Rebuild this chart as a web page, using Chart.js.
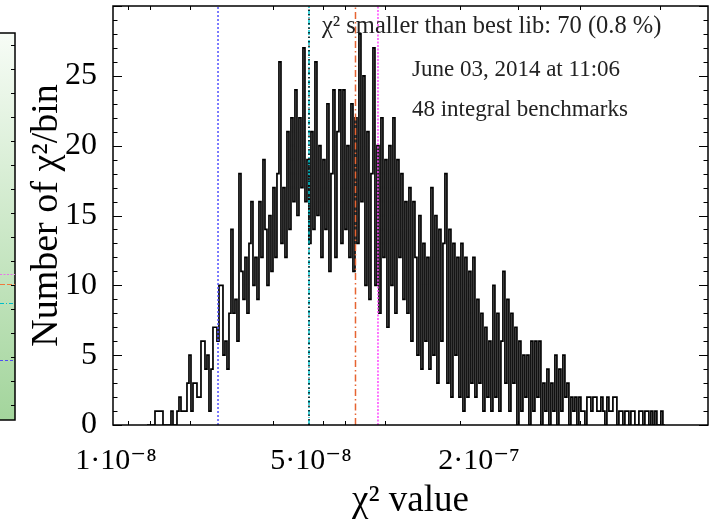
<!DOCTYPE html>
<html>
<head>
<meta charset="utf-8">
<script src="https://cdn.jsdelivr.net/npm/chart.js@4.4.1/dist/chart.umd.min.js"></script>
<style>
  html, body { margin: 0; padding: 0; background: #fff; }
  #myChart { display: block; }
</style>
</head>
<body>
<canvas id="myChart" width="711" height="524"></canvas>
<script>
// chi2 histogram, bins are equally wide on the log axis
const bin_first = 1.2915e-8;
const bin_ratio = 1.01664;
const bin_counts = [
  0,0,0,0,1,1,1,1,0,0,
  0,0,1,0,0,1,2,1,1,1,
  3,5,1,3,3,2,2,6,6,4,
  5,1,4,7,7,6,10,10,5,6,
  4,8,14,8,9,6,18,11,9,12,
  8,13,16,10,12,9,16,12,19,14,
  10,15,11,17,12,18,26,13,17,12,
  21,14,22,16,24,15,22,17,27,16,
  19,13,21,14,26,15,20,12,19,14,
  23,11,18,24,12,21,24,13,24,14,
  20,12,23,11,22,13,28,16,25,10,
  21,9,18,27,10,20,8,22,12,19,
  7,20,10,22,8,19,12,18,9,16,
  8,17,6,16,12,5,15,4,13,6,
  12,4,17,5,15,3,14,6,13,18,
  3,14,2,13,5,12,2,13,1,12,
  2,11,3,12,2,9,3,8,1,7,
  2,6,1,10,2,8,1,6,11,3,
  9,1,8,3,7,0,6,1,5,2,
  5,0,6,1,6,2,6,0,3,1,
  4,0,3,1,5,0,4,1,5,2,
  3,0,2,1,2,0,2,1,1,0,
  2,2,1,2,2,1,1,2,1,0,
  2,1,1,2,2,0,1,1,0,1,
  1,0,1,1,0,0,1,1,0,1,
  1,0,1,0,1,0,0,1,0
];

// vertical reference lines (chi2 of the reference libraries)
const marker_values = [2.321e-8, 4.918e-8, 4.918e-8, 7.218e-8, 8.69e-8];
const marker_colors = ['rgb(80, 80, 255)', 'rgb(0, 0, 0)', 'rgb(0, 200, 210)', 'rgb(230, 100, 50)', 'rgb(255, 70, 255)'];
const marker_dash = [[2, 2], [1.5, 3], [5, 2, 1, 2], [7, 3, 1.5, 3], [2, 1.5]];

// axis ticks
const x_tick_values = [1e-8, 5e-8, 2e-7];
const x_tick_labels = ['1·10⁻⁸', '5·10⁻⁸', '2·10⁻⁷'];
const x_minor_ticks = [1.104e-8, 1.324e-8, 1.842e-8, 3.656e-8, 5.52e-8, 6.61e-8, 9.2e-8, 1.71e-7, 2.76e-7, 3.31e-7, 4.6e-7, 8.9e-7];
const y_tick_values = [0, 5, 10, 15, 20, 25];

// text in the plot
const note_texts = ['χ² smaller than best lib: 70 (0.8 %)', 'June 03, 2014 at 11:06', '48 integral benchmarks'];
const note_x = [5.474e-8, 1.1505e-7, 1.1505e-7];
const note_y = [28.1, 25.0, 22.1];
const note_size = [24.5, 23, 23];

const FONT = '"Liberation Serif", "DejaVu Serif", serif';

var hist_points = [];
var index;
for (index = 0; index < bin_counts.length; index++) {
  hist_points.push({x: bin_first * Math.pow(bin_ratio, index), y: bin_counts[index]});
}
var bin_end = bin_first * Math.pow(bin_ratio, bin_counts.length);
hist_points.push({x: bin_end, y: bin_counts[bin_counts.length - 1]});
hist_points.push({x: bin_end, y: 0});

var datasets = [];
for (index = 0; index < marker_values.length; index++) {
  datasets.push({
    data: [{x: marker_values[index], y: 0}, {x: marker_values[index], y: 30}],
    borderColor: marker_colors[index],
    borderDash: marker_dash[index],
    borderWidth: 1.5,
    pointRadius: 0,
    order: 0,
  });
}
datasets.push({
  data: hist_points,
  stepped: 'before',
  borderColor: '#000',
  borderWidth: 1.7,
  pointRadius: 0,
  order: 5,
});

// piece of the neighbouring panel at the left edge
const sidePanel = {
  id: 'sidePanel',
  beforeDraw(chart) {
    const ctx = chart.ctx;
    const top = 33, bottom = 420, right = 15;
    ctx.save();
    const g = ctx.createLinearGradient(0, top, 0, bottom);
    g.addColorStop(0, '#f7fcf6');
    g.addColorStop(1, '#a3d59c');
    ctx.fillStyle = g;
    ctx.fillRect(0, top, right, bottom - top);
    ctx.strokeStyle = '#000';
    ctx.lineWidth = 1.5;
    ctx.strokeRect(-2, top, right + 2, bottom - top);
    ctx.lineWidth = 1;
    ctx.beginPath();
    for (let py = top + 12; py < bottom; py += 24) {
      ctx.moveTo(right, py + 0.5);
      ctx.lineTo(right - 4, py + 0.5);
    }
    ctx.stroke();
    const lines = [[274, 'rgb(230, 120, 230)', [2, 1.5]], [284, 'rgb(240, 120, 60)', [5, 2]],
                   [303, 'rgb(0, 190, 200)', [4, 2, 1, 2]], [360, 'rgb(80, 80, 240)', [3, 2]]];
    lines.forEach(l => {
      ctx.strokeStyle = l[1];
      ctx.setLineDash(l[2]);
      ctx.beginPath();
      ctx.moveTo(0, l[0] + 0.5);
      ctx.lineTo(right, l[0] + 0.5);
      ctx.stroke();
    });
    ctx.restore();
  }
};

// box round the plot with inward ticks, plus the notes
const framePlugin = {
  id: 'frame',
  afterDatasetsDraw(chart) {
    const ctx = chart.ctx;
    const a = chart.chartArea;
    const x = chart.scales.x, y = chart.scales.y;
    ctx.save();
    ctx.strokeStyle = '#000';
    ctx.lineWidth = 1.5;
    ctx.strokeRect(a.left, a.top, a.right - a.left, a.bottom - a.top);
    ctx.lineWidth = 1;
    ctx.beginPath();
    for (let v = 0; v <= 30; v++) {
      const py = Math.round(y.getPixelForValue(v)) + 0.5;
      const len = v % 5 === 0 ? 9 : 4.5;
      ctx.moveTo(a.left, py); ctx.lineTo(a.left + len, py);
      ctx.moveTo(a.right, py); ctx.lineTo(a.right - len, py);
    }
    x_minor_ticks.forEach(v => {
      const px = Math.round(x.getPixelForValue(v)) + 0.5;
      ctx.moveTo(px, a.bottom); ctx.lineTo(px, a.bottom - 4);
      ctx.moveTo(px, a.top); ctx.lineTo(px, a.top + 4);
    });
    ctx.stroke();

    ctx.fillStyle = '#222';
    ctx.textBaseline = 'alphabetic';
    ctx.textAlign = 'left';
    for (let i = 0; i < note_texts.length; i++) {
      ctx.font = note_size[i] + 'px ' + FONT;
      ctx.fillText(note_texts[i], x.getPixelForValue(note_x[i]), y.getPixelForValue(note_y[i]));
    }
    ctx.restore();
  }
};

var config = {
  type: 'line',
  data: { datasets: datasets },
  options: {
    responsive: false,
    animation: false,
    devicePixelRatio: 1,
    layout: { padding: { top: 6, right: 3, left: 0, bottom: 0 } },
    plugins: {
      legend: { display: false },
      tooltip: { enabled: false },
    },
    scales: {
      x: {
        type: 'logarithmic',
        min: 0.9756e-8,
        max: 1.324e-6,
        afterBuildTicks: (s) => { s.ticks = x_tick_values.map(v => ({value: v})); },
        afterFit: (s) => { s.height = 99; s.paddingLeft = 0; s.paddingRight = 0; },
        ticks: {
          autoSkip: false,
          maxRotation: 0,
          minRotation: 0,
          padding: 18,
          color: '#000',
          font: { family: FONT, size: 30 },
          callback: (v) => { const i = x_tick_values.indexOf(v); return i >= 0 ? x_tick_labels[i] : ''; },
        },
        grid: { display: false, drawTicks: false },
        border: { display: false },
        title: {
          display: true,
          text: 'χ² value',
          color: '#000',
          font: { family: FONT, size: 37 },
          padding: { top: 0, bottom: 1 },
        },
      },
      y: {
        type: 'linear',
        min: 0,
        max: 30,
        afterBuildTicks: (s) => { s.ticks = y_tick_values.map(v => ({value: v})); },
        afterFit: (s) => { s.width = 113; s.paddingTop = 0; s.paddingBottom = 0; },
        ticks: {
          padding: 16,
          color: '#000',
          font: { family: FONT, size: 32 },
        },
        grid: { display: false, drawTicks: false },
        border: { display: false },
        title: {
          display: true,
          text: 'Number of χ²/bin',
          color: '#000',
          font: { family: FONT, size: 38 },
          padding: { top: 24, bottom: 0 },
        },
      },
    },
  },
  plugins: [sidePanel, framePlugin],
};

var myChart = new Chart(document.getElementById('myChart'), config);
</script>
</body>
</html>
